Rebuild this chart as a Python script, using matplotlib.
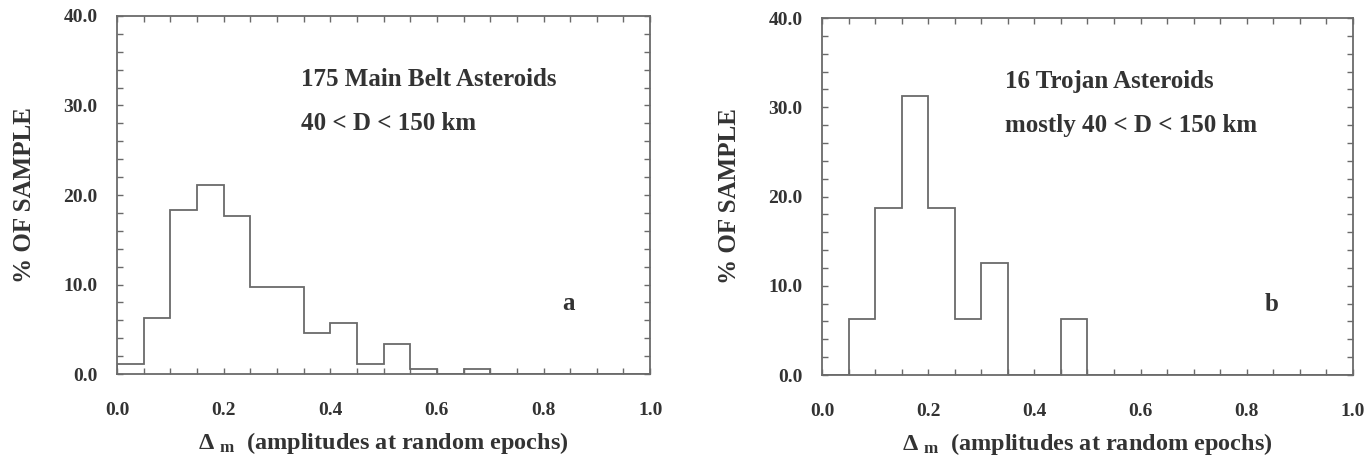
import numpy as np
import matplotlib
matplotlib.use("Agg")
import matplotlib.pyplot as plt
from matplotlib.ticker import MultipleLocator, FormatStrFormatter

# bin edges (0.05 wide) and percent of sample in each bin
bordes = np.round(np.arange(0.0, 1.0001, 0.05), 2)
pct_cinturon = [1.1, 6.3, 18.3, 21.1, 17.7, 9.7, 9.7, 4.6, 5.7, 1.1,
                3.4, 0.6, 0.0, 0.6, 0.0, 0.0, 0.0, 0.0, 0.0, 0.0]
pct_troyanos = [0.0, 6.25, 18.75, 31.25, 18.75, 6.25, 12.5, 0.0, 0.0, 6.25,
                0.0, 0.0, 0.0, 0.0, 0.0, 0.0, 0.0, 0.0, 0.0, 0.0]

titulos = [("175 Main Belt Asteroids", "40 < D < 150 km", "a"),
           ("16 Trojan Asteroids", "mostly 40 < D < 150 km", "b")]

plt.rcParams['font.family'] = ['Liberation Serif', 'DejaVu Serif']
plt.rcParams['font.weight'] = 'bold'
plt.rcParams['axes.labelweight'] = 'bold'
plt.rcParams['mathtext.fontset'] = 'custom'
plt.rcParams['mathtext.rm'] = 'Liberation Serif:bold'
plt.rcParams['mathtext.it'] = 'Liberation Serif:bold'
plt.rcParams['mathtext.bf'] = 'Liberation Serif:bold'

texto = '#333333'
linea = '#6a6a6a'

fig = plt.figure(figsize=(13.67, 4.61), dpi=100)
posiciones = [[0.0856, 0.1887, 0.390, 0.7766],
              [0.6013, 0.1865, 0.3884, 0.7744]]

for pos, datos, (t1, t2, letra) in zip(posiciones, [pct_cinturon, pct_troyanos], titulos):
    ax = fig.add_axes(pos)
    ax.stairs(datos, bordes, color=linea, linewidth=1.3)
    ax.set_xlim(0, 1.0)
    ax.set_ylim(0, 40)

    ax.xaxis.set_major_locator(MultipleLocator(0.2))
    ax.xaxis.set_minor_locator(MultipleLocator(0.05))
    ax.yaxis.set_major_locator(MultipleLocator(10))
    ax.yaxis.set_minor_locator(MultipleLocator(2))
    ax.xaxis.set_major_formatter(FormatStrFormatter('%.1f'))
    ax.yaxis.set_major_formatter(FormatStrFormatter('%.1f'))
    ax.tick_params(which='both', direction='in', top=True, right=True,
                   length=4, width=1, color=linea, labelcolor=texto)
    ax.tick_params(axis='x', which='major', pad=20, labelsize=14)
    ax.tick_params(axis='y', which='major', pad=14, labelsize=14)
    for s in ax.spines.values():
        s.set_color(linea)
        s.set_linewidth(1.3)

    ax.set_ylabel('% OF SAMPLE', fontsize=18, color=texto, labelpad=20)
    ax.set_xlabel(r'$\Delta$ $_{\mathrm{m}}$  (amplitudes at random epochs)',
                  fontsize=17.5, color=texto, labelpad=8)

    ax.text(0.345, 32.9, t1, fontsize=18, color=texto, va='center')
    ax.text(0.345, 28.0, t2, fontsize=18, color=texto, va='center')
    ax.text(0.847, 7.9, letra, fontsize=18, color=texto, va='center', ha='center')

fig.savefig('out.png', dpi=100)
